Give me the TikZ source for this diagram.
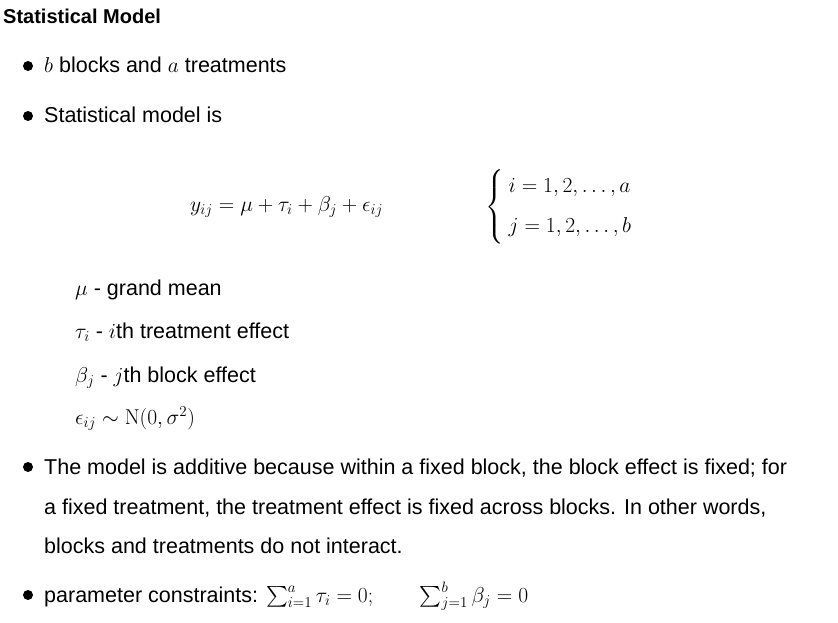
\RequirePackage{fix-cm}
\documentclass[tikz,border=0pt]{standalone}
\usepackage{amsmath}
\usepackage[no-math]{fontspec}
\setmainfont{Liberation Sans}
\begin{document}
\begin{tikzpicture}[x=1pt,y=-1pt,
  txt/.style={anchor=base west,inner sep=0pt,font=\fontsize{21.5}{26}\selectfont},
  bul/.style={fill=black}]
\useasboundingbox[fill=white] (0,0) rectangle (838,623);
\node[txt,font=\fontsize{20}{24}\selectfont\bfseries] (title) at (3,24) {Statistical Model};
\fill[bul] (28,66) circle (5);
\node[txt] (b1) at (44,73) {$b$ blocks and $a$ treatments};
\fill[bul] (28,116) circle (5);
\node[txt] (b2) at (44,123) {Statistical model is};
\node[txt] (eq) at (190,211) {$y_{ij}=\mu+\tau_i+\beta_j+\epsilon_{ij}$};
\node[anchor=west,inner sep=0pt,font=\fontsize{21.5}{26}\selectfont] (cases) at (485,207)
 {$\left\{\begin{array}{l}\rule{0pt}{20pt} i=1,2,\ldots,a\\[14pt] j=1,2,\ldots,b\rule[-10pt]{0pt}{10pt}\end{array}\right.$};
\node[txt] (d1) at (75,295) {$\mu$ - grand mean};
\node[txt] (d2) at (75,338) {$\tau_i$ - $i$th treatment effect};
\node[txt] (d3) at (75,382) {$\beta_j$ - $j$th block effect};
\node[txt] (d4) at (75,424) {$\epsilon_{ij}\sim \mathrm{N}(0,\sigma^2)$};
\fill[bul] (28,467) circle (5);
\node[txt] (b3a) at (44,474) {The model is additive because within a fixed block, the block effect is fixed; for};
\node[txt] (b3b) at (44,514) {a fixed treatment, the treatment effect is fixed across blocks. In other words,};
\node[txt] (b3c) at (44,553) {blocks and treatments do not interact.};
\fill[bul] (28,595) circle (5);
\node[txt] (b4) at (44,602) {parameter constraints: $\sum_{i=1}^{a}\tau_i=0;\qquad \sum_{j=1}^{b}\beta_j=0$};
\end{tikzpicture}
\end{document}
